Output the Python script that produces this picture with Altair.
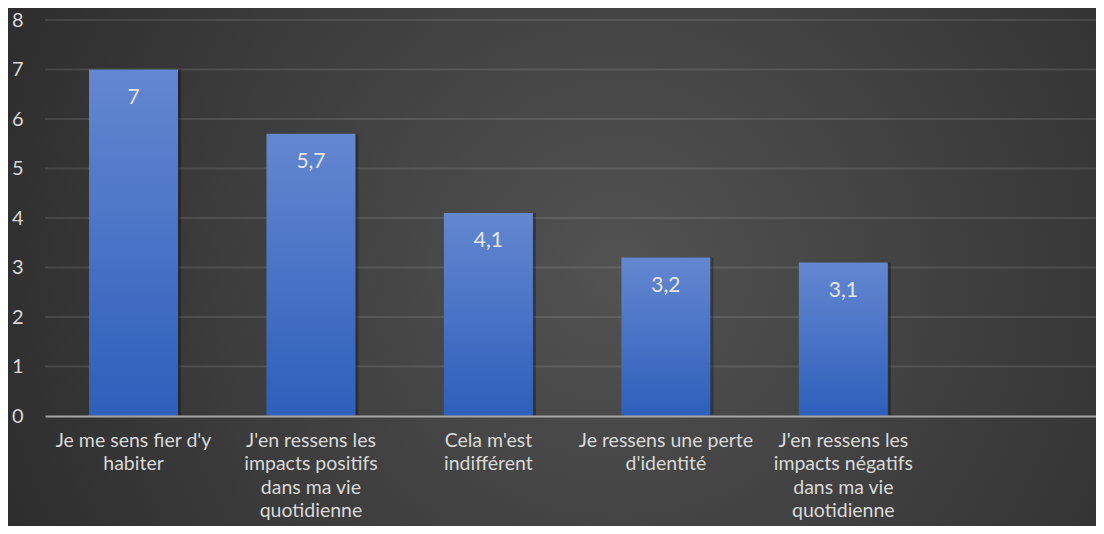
import altair as alt
import pandas as pd

categories = [
    "Je me sens fier d'y\nhabiter",
    "J'en ressens les\nimpacts positifs\ndans ma vie\nquotidienne",
    "Cela m'est\nindifférent",
    "Je ressens une perte\nd'identité",
    "J'en ressens les\nimpacts négatifs\ndans ma vie\nquotidienne",
]
values = [7, 5.7, 4.1, 3.2, 3.1]
value_labels = ["7", "5,7", "4,1", "3,2", "3,1"]
grid_values = [1, 2, 3, 4, 5, 6, 7, 8]
domain_x = categories + [" "]

df = pd.DataFrame({"cat": categories, "val": values, "lab": value_labels})
gdf = pd.DataFrame({"g": grid_values})

W, H = 1051, 396
PL, PT, PB = 37, 12, 110
FONT = "Lato"

bg = alt.Chart(alt.Data(values=[{"a": 1}])).mark_rect(
    fill=alt.RadialGradient(
        gradient="radial",
        stops=[alt.GradientStop(offset=0, color="#525252"),
               alt.GradientStop(offset=1, color="#242424")],
        x1=0.55, y1=0.5, r1=0, x2=0.55, y2=0.5, r2=0.75,
    ),
    strokeWidth=0,
).encode(
    x=alt.value(-PL), x2=alt.value(W + 20),
    y=alt.value(-PT), y2=alt.value(H + PB + 5),
)

grid = alt.Chart(gdf).mark_rule(color="#ffffff", opacity=0.1, strokeWidth=2).encode(
    y=alt.Y("g:Q", scale=alt.Scale(domain=[0, 8], nice=False)),
    x=alt.value(0), x2=alt.value(W + 20),
)

xenc = alt.X(
    "cat:N",
    scale=alt.Scale(domain=domain_x, paddingInner=0.4986, paddingOuter=0.2106, align=0.589),
    axis=alt.Axis(
        title=None, labelAngle=0, ticks=False, labelFontSize=19.5,
        labelLineHeight=23.5, labelPadding=15, labelColor="#d9d9d9",
        labelLimit=0, labelFont=FONT, domainColor="#a6a6a6", domainWidth=2,
        labelExpr="split(datum.label, '\\n')", grid=False, zindex=1,
    ),
)
yenc = alt.Y(
    "val:Q",
    scale=alt.Scale(domain=[0, 8], nice=False),
    axis=alt.Axis(
        title=None, values=list(range(0, 9)), ticks=False, domain=False,
        labelFontSize=20, labelColor="#d9d9d9", labelPadding=22,
        labelFont=FONT, grid=False, zindex=1,
    ),
)

base = alt.Chart(df)

shadow = base.mark_bar(color="#000000", opacity=0.28, xOffset=3).encode(x=xenc, y=yenc)

bars = base.mark_bar(
    fill=alt.LinearGradient(
        gradient="linear",
        stops=[alt.GradientStop(offset=0, color="#6487d0"),
               alt.GradientStop(offset=1, color="#2d5fbb")],
        x1=0, x2=0, y1=0, y2=1,
    )
).encode(x=xenc, y=yenc)

texts = base.mark_text(
    baseline="middle", dy=28, fontSize=21, color="#e6e6e6", font=FONT
).encode(x=xenc, y=yenc, text="lab:N")

chart = alt.layer(bg, grid, shadow, bars, texts).properties(
    width=W, height=H,
    autosize=alt.AutoSizeParams(type="none"),
    padding={"left": PL, "top": PT, "right": 0, "bottom": PB},
).configure(background="#333333").configure_view(stroke=None)

chart.save("out.html", embed_options={"renderer": "svg", "actions": False})
